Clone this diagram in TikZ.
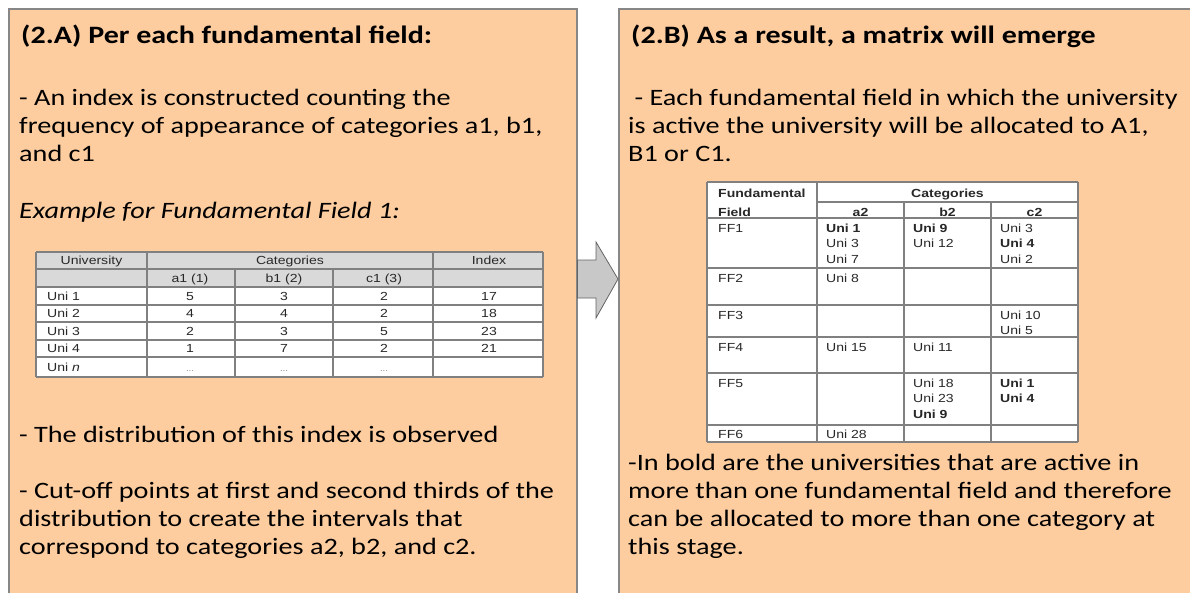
\documentclass[tikz,border=0pt]{standalone}
\usepackage{fontspec}
\setmainfont{Carlito}[FakeStretch=1.2]
\newfontfamily\tabfont{Liberation Sans}[FakeStretch=1.2]
\definecolor{boxfill}{RGB}{253,205,160}
\definecolor{boxline}{RGB}{135,135,135}
\definecolor{arrowfill}{RGB}{200,200,200}
\definecolor{arrowline}{RGB}{100,100,100}
\definecolor{hdrgray}{RGB}{217,217,217}
\definecolor{tabline}{RGB}{128,128,128}
\definecolor{tabtext}{RGB}{40,40,40}
\newcommand{\bodysize}{\fontsize{23.5}{28}\selectfont}
\newcommand{\titlesize}{\fontsize{25}{30}\selectfont}
\newcommand{\tabsize}{\tabfont\fontsize{11.7}{15.8}\selectfont}
\begin{document}
\begin{tikzpicture}[x=1pt,y=-1pt,
  box/.style={draw=boxline, line width=1.5pt, fill=boxfill, inner sep=0, anchor=north west},
  titlef/.style={anchor=base west, inner sep=0, font=\titlesize\bfseries},
  bodyf/.style={anchor=base west, inner sep=0, align=left, font=\bodysize},
  tline/.style={draw=tabline, line width=1.1pt},
  tc/.style={anchor=base, inner sep=0, font=\tabsize, text=tabtext},
  tl/.style={anchor=base west, inner sep=0, align=left, font=\tabsize, text=tabtext},
  bigarrow/.style={fill=arrowfill, draw=arrowline, line width=0.8pt, line join=miter}]
\useasboundingbox (0,0) rectangle (1190,592);
\clip (0,0) rectangle (1190,592);
\fill[white] (0,0) rectangle (1190,592);

% boxes
\node[box, minimum width=568pt, minimum height=620pt] (boxA) at (8,8) {};
\node[box, minimum width=600pt, minimum height=620pt] (boxB) at (618,8) {};

% block arrow between the boxes
\draw[bigarrow] (boxA.east |- 0,260) -- (596,260) -- (596,242) -- (boxB.west |- 0,279)
  -- (596,318) -- (596,298) -- (boxA.east |- 0,298) -- cycle;

% left box texts (multi-line nodes: base = last line)
\node[titlef] (tA) at (21,43) {(2.A) Per each fundamental field:};
\node[bodyf] (pA1) at (19,161) {- An index is constructed counting the\\frequency of appearance of categories a1, b1,\\and c1};
\node[bodyf, font=\bodysize\itshape] (pA2) at (19,218) {Example for Fundamental Field 1:};
\node[bodyf] (pA3) at (19,442) {- The distribution of this index is observed};
\node[bodyf] (pA4) at (19,554) {- Cut-off points at first and second thirds of the\\distribution to create the intervals that\\correspond to categories a2, b2, and c2.};

% right box texts
\node[titlef] (tB) at (631,43) {(2.B) As a result, a matrix will emerge};
\node[bodyf] (pB1) at (628,161) {\ - Each fundamental field in which the university\\is active the university will be allocated to A1,\\B1 or C1.};
\node[bodyf] (pB2) at (628,554) {-In bold are the universities that are active in\\more than one fundamental field and therefore\\can be allocated to more than one category at\\this stage.};

% ---------- left table ----------
\fill[hdrgray] (36,252) rectangle (543,287);
\fill[white] (36,287) rectangle (543,377);
\foreach \yy in {252,269,287,305,322,340,357,377}
  \draw[tline] (36,\yy) -- (543,\yy);
\foreach \xx in {36,147,433,543}
  \draw[tline] (\xx,252) -- (\xx,377);
\foreach \xx in {235,333}
  \draw[tline] (\xx,269) -- (\xx,377);
\node[tc] (lhU) at (91.5,264.7) {University};
\node[tc] (lhC) at (290,264.7) {Categories};
\node[tc] (lhI) at (489,264.7) {Index};
\node[tc] (lha) at (190,282.2) {a1 (1)};
\node[tc] (lhb) at (284,282.2) {b1 (2)};
\node[tc] (lhc) at (384,282.2) {c1 (3)};
\foreach \n/\yb/\a/\b/\c/\i in {1/300.2/5/3/2/17, 2/317.7/4/4/2/18, 3/335.2/2/3/5/23, 4/352.7/1/7/2/21}{
  \node[tl] (lu\n) at (47,\yb) {Uni \n};
  \node[tc] (la\n) at (190,\yb) {\a};
  \node[tc] (lb\n) at (284,\yb) {\b};
  \node[tc] (lc\n) at (384,\yb) {\c};
  \node[tc] (li\n) at (489,\yb) {\i};
}
\node[tl] (lun) at (47,371.2) {Uni \textit{n}};
\node[tc, text=gray, font=\tabfont\fontsize{8}{10}\selectfont] (lan) at (190,371.2) {...};
\node[tc, text=gray, font=\tabfont\fontsize{8}{10}\selectfont] (lbn) at (284,371.2) {...};
\node[tc, text=gray, font=\tabfont\fontsize{8}{10}\selectfont] (lcn) at (384,371.2) {...};

% ---------- right table ----------
\fill[white] (707,182) rectangle (1078,442);
\draw[tline] (817,202) -- (1078,202);
\foreach \yy in {182,218,268,305,337,373,425,442}
  \draw[tline] (707,\yy) -- (1078,\yy);
\foreach \xx in {707,817,1078}
  \draw[tline] (\xx,182) -- (\xx,442);
\foreach \xx in {904,991}
  \draw[tline] (\xx,202) -- (\xx,442);
\node[tl, font=\tabsize\bfseries] (rhF) at (718,216) {Fundamental\\[3.2pt]Field};
\node[tc, font=\tabsize\bfseries] (rhC) at (947.5,197) {Categories};
\node[tc, font=\tabsize\bfseries] (rha) at (860.5,216) {a2};
\node[tc, font=\tabsize\bfseries] (rhb) at (947.5,216) {b2};
\node[tc, font=\tabsize\bfseries] (rhc) at (1034.5,216) {c2};
% FF1
\node[tl] (f1) at (718,232) {FF1};
\node[tl] (f1a) at (826,263.6) {\textbf{Uni 1}\\Uni 3\\Uni 7};
\node[tl] (f1b) at (913,247.8) {\textbf{Uni 9}\\Uni 12};
\node[tl] (f1c) at (1000,263.6) {Uni 3\\\textbf{Uni 4}\\Uni 2};
% FF2
\node[tl] (f2) at (718,282) {FF2};
\node[tl] (f2a) at (826,282) {Uni 8};
% FF3
\node[tl] (f3) at (718,319) {FF3};
\node[tl] (f3c) at (1000,334.8) {Uni 10\\Uni 5};
% FF4
\node[tl] (f4) at (718,351) {FF4};
\node[tl] (f4a) at (826,351) {Uni 15};
\node[tl] (f4b) at (913,351) {Uni 11};
% FF5
\node[tl] (f5) at (718,387) {FF5};
\node[tl] (f5b) at (913,418.6) {Uni 18\\Uni 23\\\textbf{Uni 9}};
\node[tl] (f5c) at (1000,402.8) {\textbf{Uni 1}\\\textbf{Uni 4}};
% FF6
\node[tl] (f6) at (718,438) {FF6};
\node[tl] (f6a) at (826,438) {Uni 28};
\end{tikzpicture}
\end{document}
